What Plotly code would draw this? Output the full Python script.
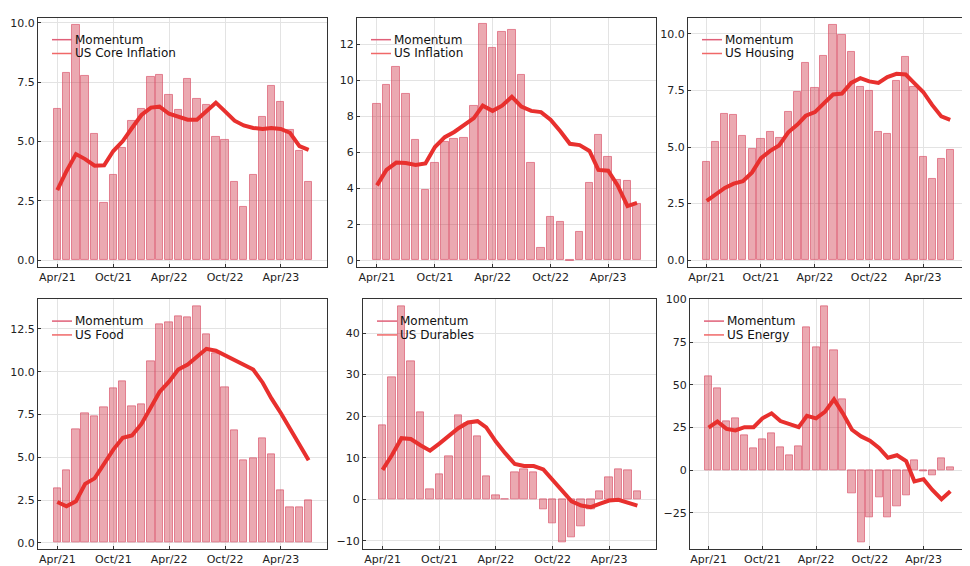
import pandas as pd
import plotly.graph_objects as go
from plotly.subplots import make_subplots

# monthly observations, Apr 2021 .. Jul 2023
months = pd.date_range("2021-04-01", periods=28, freq="MS")

names = ["US Core Inflation", "US Inflation", "US Housing",
         "US Food", "US Durables", "US Energy"]

core_inflation = [6.39, 7.9, 9.93, 7.77, 5.34, 2.42, 3.58, 4.72, 5.86, 6.36,
                  7.72, 7.81, 6.96, 6.32, 7.65, 6.78, 6.54, 5.2, 5.06, 3.29,
                  2.25, 3.58, 6.03, 7.34, 6.69, 5.49, 4.59, 3.29]
core_inflation_mom = [2.95, 3.75, 4.47, 4.26, 3.98, 4.0, 4.6, 5.02, 5.57, 6.12,
                      6.43, 6.47, 6.17, 6.03, 5.92, 5.92, 6.29, 6.64, 6.27, 5.88,
                      5.68, 5.57, 5.53, 5.57, 5.53, 5.37, 4.81, 4.65]

inflation = [8.66, 9.76, 10.72, 9.23, 6.68, 3.92, 5.38, 6.58, 6.73, 6.77,
             8.59, 13.1, 11.82, 12.68, 12.82, 10.3, 5.42, 0.69, 2.39, 2.12,
             -0.04, 1.59, 4.29, 6.99, 5.74, 4.47, 4.43, 3.12]
inflation_mom = [4.16, 5.02, 5.43, 5.40, 5.29, 5.38, 6.29, 6.84, 7.13, 7.53,
                 7.9, 8.59, 8.3, 8.59, 9.08, 8.54, 8.3, 8.23, 7.81, 7.17,
                 6.47, 6.4, 6.07, 5.02, 4.98, 4.16, 3.01, 3.19]

housing = [4.32, 5.22, 6.45, 6.42, 5.48, 4.9, 5.36, 5.67, 5.41, 6.57,
           7.45, 8.7, 7.62, 9.03, 10.41, 9.93, 9.2, 7.64, 7.46, 5.65,
           5.59, 7.91, 8.99, 7.67, 4.57, 3.57, 4.49, 4.88]
housing_mom = [2.62, 2.91, 3.19, 3.38, 3.49, 3.88, 4.51, 4.83, 5.07, 5.65,
               5.99, 6.38, 6.54, 6.93, 7.32, 7.36, 7.83, 8.04, 7.9, 7.83,
               8.09, 8.23, 8.2, 7.83, 7.43, 6.86, 6.35, 6.2]

food = [3.2, 4.26, 6.63, 7.59, 7.38, 7.9, 9.03, 9.46, 7.99, 8.07,
        10.61, 12.79, 12.9, 13.25, 13.19, 13.81, 12.21, 11.07, 9.11, 6.55,
        4.82, 4.93, 6.09, 5.16, 3.08, 2.1, 2.1, 2.47]
food_mom = [2.39, 2.14, 2.43, 3.45, 3.77, 4.68, 5.45, 6.14, 6.28, 6.95,
            7.92, 8.82, 9.42, 10.13, 10.42, 10.9, 11.34, 11.23, 10.96, 10.65,
            10.42, 10.13, 9.36, 8.46, 7.59, 6.66, 5.76, 4.83]

durables = [17.7, 29.25, 46.3, 33.3, 21.0, 2.3, 6.1, 10.4, 20.1, 18.3,
            15.1, 5.6, 0.87, -0.08, 6.4, 7.2, 6.4, -2.45, -5.9, -10.4,
            -9.2, -6.6, -2.45, 2.0, 5.4, 7.3, 7.0, 2.0]
durables_mom = [7.1, 10.6, 14.7, 14.5, 13.0, 11.7, 13.4, 15.3, 17.1, 18.5,
                18.8, 17.3, 13.9, 11.1, 8.5, 8.0, 8.0, 7.2, 4.6, 1.9,
                -0.5, -1.5, -1.9, -1.1, -0.3, -0.1, -0.9, -1.5]

energy = [54.8, 48.1, 28.8, 30.4, 20.4, 12.9, 18.3, 21.7, 13.5, 8.5,
          14.0, 83.7, 71.7, 95.8, 70.4, 41.2, -13.8, -42.3, -27.7, -15.8,
          -27.3, -21.0, -14.8, 6.0, -0.4, -2.9, 6.9, 1.9]
energy_mom = [25.0, 28.5, 24.2, 23.3, 25.2, 25.2, 30.4, 33.3, 28.8, 26.9,
              25.2, 31.9, 30.4, 34.2, 41.5, 33.3, 23.7, 19.8, 17.3, 13.1,
              7.3, 8.8, 5.4, -6.5, -5.2, -11.5, -16.9, -12.3]

bars = [core_inflation, inflation, housing, food, durables, energy]
lines = [core_inflation_mom, inflation_mom, housing_mom, food_mom, durables_mom, energy_mom]

# the page puts the plot 8px in from the top-left corner
OFF = 8
W, H = 962, 558
# panel boxes in page pixels (left, right, top, bottom)
boxes = [(38, 327, 12, 264), (357, 656, 12, 264), (688, 968, 12, 264),
         (38, 327, 297, 550), (363, 656, 297, 550), (690, 968, 297, 550)]
yranges = [(-0.28, 10.21), (-0.36, 13.46), (-0.29, 10.7),
           (-0.37, 14.23), (-12.0, 48.1), (-46.2, 100)]
ydticks = [2.5, 2, 2.5, 2.5, 10, 25]
yformats = [".1f", "d", ".1f", ".1f", "d", "d"]


def px(x):
    return (x - OFF) / W


def py(y):
    return 1 - (y - OFF) / H


BAR_FILL = "rgba(205,40,60,0.40)"
BAR_EDGE = "rgba(215,70,95,0.6)"
LINE_RED = "#e8302e"

fig = make_subplots(rows=2, cols=3)

for i in range(6):
    r, c = i // 3 + 1, i % 3 + 1
    fig.add_trace(go.Bar(
        x=months, y=bars[i], width=24 * 86400000,
        marker=dict(color=BAR_FILL, line=dict(color=BAR_EDGE, width=1)),
        showlegend=False, name="Momentum"), row=r, col=c)
    fig.add_trace(go.Scatter(
        x=months, y=lines[i], mode="lines",
        line=dict(color=LINE_RED, width=4),
        showlegend=False, name=names[i]), row=r, col=c)

shapes = []
annotations = []
for i, (l, rt, t, b) in enumerate(boxes):
    sfx = "" if i == 0 else str(i + 1)
    fig.layout["xaxis" + sfx].update(
        domain=[px(l), min(px(rt), 1)],
        range=["2021-01-28", "2023-08-30"],
        tick0="2021-04-01", dtick="M6", tickformat="%b/%y",
        showgrid=True, gridcolor="#e3e3e3", gridwidth=1,
        showline=True, linecolor="#333", linewidth=1, mirror=True,
        ticks="inside", ticklen=3, tickcolor="#333",
        tickfont=dict(size=11, color="#222"))
    fig.layout["yaxis" + sfx].update(
        domain=[py(b), py(t)],
        range=list(yranges[i]), dtick=ydticks[i], tick0=0,
        tickformat=yformats[i],
        showgrid=True, gridcolor="#e3e3e3", gridwidth=1, zeroline=False,
        showline=True, linecolor="#333", linewidth=1, mirror=True,
        ticks="inside", ticklen=3, tickcolor="#333",
        tickfont=dict(size=11, color="#222"))

    # hand-drawn legend, top-left of each panel
    x0 = l + 14
    for j, (label, col) in enumerate([("Momentum", "#e06078"), (names[i], "#f06868")]):
        yy = t + 22 + 14 * j
        shapes.append(dict(type="line", xref="paper", yref="paper",
                           x0=px(x0), x1=px(x0 + 20),
                           y0=py(yy), y1=py(yy),
                           line=dict(color=col, width=1.5)))
        annotations.append(dict(text=label, xref="paper", yref="paper",
                                x=px(x0 + 20.5), y=py(yy),
                                xanchor="left", yanchor="middle", showarrow=False,
                                font=dict(size=12, color="#111")))

fig.update_layout(
    width=W, height=H,
    margin=dict(l=0, r=0, t=0, b=0),
    paper_bgcolor="white", plot_bgcolor="white",
    font=dict(family="DejaVu Sans"),
    bargap=0, shapes=shapes, annotations=annotations,
)

fig.write_html("out.html")
